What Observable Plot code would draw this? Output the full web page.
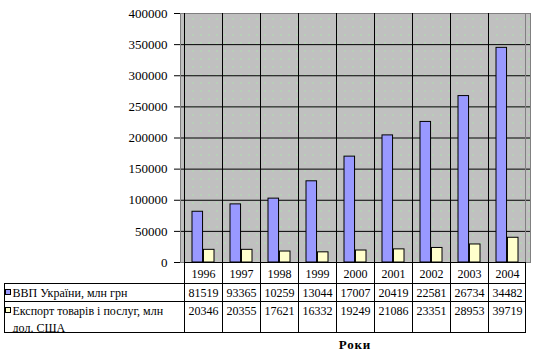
<!DOCTYPE html>
<html><head><meta charset="utf-8">
<script src="https://cdn.jsdelivr.net/npm/d3@7"></script>
<script src="https://cdn.jsdelivr.net/npm/@observablehq/plot@0.6"></script>
<style>body{margin:0;background:#fff}</style>
</head><body><div id="chart"></div>
<script>
const years = ["1996","1997","1998","1999","2000","2001","2002","2003","2004"];
const gdp = [81519, 93365, 102593, 130442, 170070, 204190, 225810, 267344, 344822];
const exportsVals = [20346, 20355, 17621, 16332, 19249, 21086, 23351, 28953, 39719];
const seriesNames = ["ВВП України, млн грн", "Експорт товарів і послуг, млн дол. США"];
const seriesColors = ["#9999ff", "#ffffcc"];
const yTicks = [0, 50000, 100000, 150000, 200000, 250000, 300000, 350000, 400000];
const xTitle = "Роки";

const FONT = "Liberation Serif, Times New Roman, serif";
const rows = years.flatMap((year, i) => [
  {year, series: seriesNames[0], value: gdp[i], label: String(gdp[i]).slice(0, 5)},
  {year, series: seriesNames[1], value: exportsVals[i], label: String(exportsVals[i]).slice(0, 5)}
]);

function wrap(text, maxW, font) {
  const ctx = document.createElement("canvas").getContext("2d");
  ctx.font = font;
  const words = text.split(" ");
  const lines = [];
  let cur = "";
  for (const w of words) {
    const t = cur ? cur + " " + w : w;
    if (ctx.measureText(t).width > maxW && cur) { lines.push(cur); cur = w; } else cur = t;
  }
  if (cur) lines.push(cur);
  return lines;
}

function findArgs(args) {
  const s = args.find(a => a && typeof a.x === "function");
  const d = args.find(a => a && typeof a.marginLeft === "number" && typeof a.width === "number");
  return {s, d};
}

// vertical category gridlines through plot and table
const vGrid = (...args) => {
  const {s, d} = findArgs(args);
  const x = s.x, bw = x(years[1]) - x(years[0]);
  const top = d.marginTop, bottom = d.height - d.marginBottom;
  const tableBottom = bottom + 70;
  const g = d3.create("svg:g").attr("shape-rendering", "crispEdges");
  years.forEach(y => {
    const px = Math.round(x(y)) + 0.5;
    g.append("line").attr("x1", px).attr("x2", px).attr("y1", top).attr("y2", tableBottom).attr("stroke", "black");
  });
  const rx = Math.round(x(years[years.length - 1]) + bw) - 0.5;
  g.append("line").attr("x1", rx).attr("x2", rx).attr("y1", top).attr("y2", bottom).attr("stroke", "#808080");
  g.append("line").attr("x1", rx).attr("x2", rx).attr("y1", bottom).attr("y2", tableBottom + 0.5).attr("stroke", "black");
  return g.node();
};

// data table frame, legend column and axis title
const tableMark = (...args) => {
  const {s, d} = findArgs(args);
  const x = s.x, bw = x(years[1]) - x(years[0]);
  const left = 4.5;
  const right = Math.round(x(years[years.length - 1]) + bw) - 0.5;
  const bottom = d.height - d.marginBottom;
  const r1 = bottom + 21.5, r2 = bottom + 39.5, r3 = bottom + 70.5;
  const g = d3.create("svg:g").attr("text-anchor", "start");
  const lines = g.append("g").attr("shape-rendering", "crispEdges").attr("stroke", "black");
  lines.append("line").attr("x1", Math.round(x(years[0]))).attr("x2", right + 0.5).attr("y1", bottom + 0.5).attr("y2", bottom + 0.5);
  [r1, r2, r3].forEach(y => lines.append("line").attr("x1", left - 0.5).attr("x2", right + 0.5).attr("y1", y).attr("y2", y));
  lines.append("line").attr("x1", left).attr("x2", left).attr("y1", r1).attr("y2", r3);

  // legend keys + labels
  const keyY = [r1 + 6, r2 + 6];
  const baselines = [[r1 + 13.5], [r2 + 13.8, r2 + 30.5]];
  const labelLines = [wrap(seriesNames[0], 168, "12px " + FONT), wrap(seriesNames[1], 168, "12px " + FONT)];
  g.append("clipPath").attr("id", "tblclip").append("rect").attr("x", 0).attr("y", r1).attr("width", d.width).attr("height", r3 - r1 - 0.5);
  const tg = g.append("g").attr("clip-path", "url(#tblclip)");
  seriesNames.forEach((name, i) => {
    tg.append("rect").attr("x", 5.5).attr("y", keyY[i]).attr("width", 5).attr("height", 5)
      .attr("fill", seriesColors[i]).attr("stroke", "black").attr("stroke-width", 1).attr("shape-rendering", "crispEdges");
    labelLines[i].forEach((ln, j) => {
      tg.append("text").attr("x", 12.5).attr("y", baselines[i][j]).attr("font-size", 12)
        .attr("text-anchor", "start").style("font-family", FONT).attr("fill", "black").text(ln);
    });
  });
  // axis title
  g.append("text").attr("x", (d.marginLeft + d.width - d.marginRight) / 2).attr("y", bottom + 87)
    .attr("text-anchor", "middle").attr("font-size", 13).attr("font-weight", "bold")
    .attr("letter-spacing", "0.8px").style("font-family", FONT).attr("fill", "black").text(xTitle);
  return g.node();
};

const plot = Plot.plot({
  width: 538,
  height: 353,
  marginTop: 13,
  marginBottom: 91,
  marginLeft: 180,
  marginRight: 8,
  style: {fontFamily: FONT, fontSize: "12px", color: "black", background: "white"},
  x: {type: "band", domain: years, padding: 0, axis: null},
  y: {domain: [0, 400000], label: null},
  marks: [
    Plot.frame({fill: "#c0c0c0"}),
    Plot.frame({fill: "url(#dots)"}),
    Plot.gridY(yTicks.slice(0, -1), {stroke: "black", strokeOpacity: 1}),
    Plot.frame({stroke: "#808080"}),
    vGrid,
    Plot.barY(rows.filter(r => r.series === seriesNames[0]), {
      x: "year", y: "value", fill: seriesColors[0], stroke: "black", strokeWidth: 1,
      insetLeft: 8, insetRight: 19.45
    }),
    Plot.barY(rows.filter(r => r.series === seriesNames[1]), {
      x: "year", y: "value", fill: seriesColors[1], stroke: "black", strokeWidth: 1,
      insetLeft: 19.45, insetRight: 8
    }),
    Plot.axisY(yTicks, {tickFormat: d => String(d), tickSize: 6, tickPadding: 7, fontSize: 13, label: null, stroke: "black", fill: "black"}),
    Plot.text(years, {x: d => d, text: d => d, frameAnchor: "bottom", dy: 15, fontSize: 12, fill: "black"}),
    Plot.text(rows.filter(r => r.series === seriesNames[0]), {x: "year", text: "label", frameAnchor: "bottom", dy: 34, fontSize: 12, fill: "black"}),
    Plot.text(rows.filter(r => r.series === seriesNames[1]), {x: "year", text: "label", frameAnchor: "bottom", dy: 52.3, fontSize: 12, fill: "black"}),
    tableMark
  ]
});

const ns = "http://www.w3.org/2000/svg";
const defs = document.createElementNS(ns, "defs");
defs.innerHTML = '<pattern id="dots" patternUnits="userSpaceOnUse" width="8" height="8"><rect x="0" y="2" width="1" height="1" fill="#99ff99" shape-rendering="crispEdges"/></pattern>';
plot.insertBefore(defs, plot.firstChild);
document.getElementById("chart").appendChild(plot);
</script>
</body></html>
